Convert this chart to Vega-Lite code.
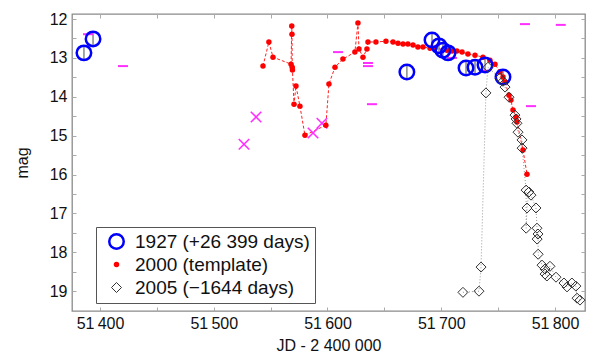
{
  "$schema": "https://vega.github.io/schema/vega-lite/v6.json",
  "width": 513,
  "height": 297,
  "autosize": "none",
  "padding": {"left": 72, "top": 14, "right": 5, "bottom": 50},
  "background": "white",
  "config": {
    "font": "Liberation Sans",
    "view": {"stroke": "#8a8a8a", "strokeWidth": 1.3},
    "locale": {"number": {"decimal": ".", "thousands": "\u2009", "grouping": [3], "currency": ["", ""]}},
    "axis": {"domain": false, "grid": false, "tickColor": "#aaaaaa", "tickSize": -4, "labelFontSize": 16, "labelColor": "#111111", "titleFontSize": 16, "titleFontWeight": "normal", "titleColor": "#111111"},
    "legend": {"orient": "none", "legendX": 24, "legendY": 213, "strokeColor": "#555555", "fillColor": "white", "padding": 5, "symbolOffset": 6, "labelFontSize": 19, "labelColor": "#111111", "labelOffset": 9, "rowPadding": 3, "clipHeight": 19, "labelLimit": 400}
  },
  "datasets": {
    "pts": [
      {"s": "2000 (template)", "jd": 51543.3, "mag": 13.21},
      {"s": "2000 (template)", "jd": 51548.5, "mag": 12.59},
      {"s": "2000 (template)", "jd": 51552.1, "mag": 12.98},
      {"s": "2000 (template)", "jd": 51568.0, "mag": 13.16},
      {"s": "2000 (template)", "jd": 51568.6, "mag": 12.18},
      {"s": "2000 (template)", "jd": 51568.8, "mag": 12.39},
      {"s": "2000 (template)", "jd": 51569.0, "mag": 13.24},
      {"s": "2000 (template)", "jd": 51569.2, "mag": 13.31},
      {"s": "2000 (template)", "jd": 51570.6, "mag": 14.19},
      {"s": "2000 (template)", "jd": 51572.3, "mag": 13.72},
      {"s": "2000 (template)", "jd": 51575.8, "mag": 14.24},
      {"s": "2000 (template)", "jd": 51580.2, "mag": 14.99},
      {"s": "2000 (template)", "jd": 51598.6, "mag": 14.73},
      {"s": "2000 (template)", "jd": 51601.3, "mag": 13.67},
      {"s": "2000 (template)", "jd": 51606.6, "mag": 13.24},
      {"s": "2000 (template)", "jd": 51613.6, "mag": 13.03},
      {"s": "2000 (template)", "jd": 51624.1, "mag": 12.85},
      {"s": "2000 (template)", "jd": 51626.8, "mag": 12.10},
      {"s": "2000 (template)", "jd": 51627.7, "mag": 12.77},
      {"s": "2000 (template)", "jd": 51631.2, "mag": 12.98},
      {"s": "2000 (template)", "jd": 51634.7, "mag": 12.77},
      {"s": "2000 (template)", "jd": 51635.6, "mag": 12.59},
      {"s": "2000 (template)", "jd": 51642.6, "mag": 12.59},
      {"s": "2000 (template)", "jd": 51651.4, "mag": 12.57},
      {"s": "2000 (template)", "jd": 51657.6, "mag": 12.59},
      {"s": "2000 (template)", "jd": 51662.0, "mag": 12.62},
      {"s": "2000 (template)", "jd": 51666.4, "mag": 12.64},
      {"s": "2000 (template)", "jd": 51670.7, "mag": 12.64},
      {"s": "2000 (template)", "jd": 51675.2, "mag": 12.67},
      {"s": "2000 (template)", "jd": 51679.5, "mag": 12.72},
      {"s": "2000 (template)", "jd": 51684.0, "mag": 12.72},
      {"s": "2000 (template)", "jd": 51690.2, "mag": 12.75},
      {"s": "2000 (template)", "jd": 51694.5, "mag": 12.75},
      {"s": "2000 (template)", "jd": 51705.0, "mag": 12.80},
      {"s": "2000 (template)", "jd": 51709.5, "mag": 12.82},
      {"s": "2000 (template)", "jd": 51713.8, "mag": 12.82},
      {"s": "2000 (template)", "jd": 51718.3, "mag": 12.85},
      {"s": "2000 (template)", "jd": 51723.5, "mag": 12.90},
      {"s": "2000 (template)", "jd": 51729.7, "mag": 12.93},
      {"s": "2000 (template)", "jd": 51736.7, "mag": 12.98},
      {"s": "2000 (template)", "jd": 51742.8, "mag": 13.06},
      {"s": "2000 (template)", "jd": 51747.3, "mag": 13.16},
      {"s": "2000 (template)", "jd": 51751.6, "mag": 13.36},
      {"s": "2000 (template)", "jd": 51754.3, "mag": 13.49},
      {"s": "2000 (template)", "jd": 51756.1, "mag": 13.62},
      {"s": "2000 (template)", "jd": 51759.6, "mag": 13.96},
      {"s": "2000 (template)", "jd": 51761.3, "mag": 14.08},
      {"s": "2000 (template)", "jd": 51763.1, "mag": 14.34},
      {"s": "2000 (template)", "jd": 51765.8, "mag": 14.52},
      {"s": "2000 (template)", "jd": 51766.6, "mag": 14.65},
      {"s": "2000 (template)", "jd": 51771.9, "mag": 15.37},
      {"s": "2000 (template)", "jd": 51775.4, "mag": 15.99},
      {"s": "1927 (+26 399 days)", "jd": 51385.9, "mag": 12.87, "lo": 12.69, "hi": 13.05},
      {"s": "1927 (+26 399 days)", "jd": 51393.9, "mag": 12.51, "lo": 12.33, "hi": 12.69},
      {"s": "1927 (+26 399 days)", "jd": 51669.8, "mag": 13.36, "lo": 13.17, "hi": 13.55},
      {"s": "1927 (+26 399 days)", "jd": 51691.9, "mag": 12.54, "lo": 12.36, "hi": 12.72},
      {"s": "1927 (+26 399 days)", "jd": 51698.0, "mag": 12.69, "lo": 12.51, "hi": 12.87},
      {"s": "1927 (+26 399 days)", "jd": 51701.5, "mag": 12.80, "lo": 12.62, "hi": 12.98},
      {"s": "1927 (+26 399 days)", "jd": 51706.0, "mag": 12.87, "lo": 12.69, "hi": 13.05},
      {"s": "1927 (+26 399 days)", "jd": 51721.8, "mag": 13.26, "lo": 13.08, "hi": 13.44},
      {"s": "1927 (+26 399 days)", "jd": 51729.7, "mag": 13.24, "lo": 13.06, "hi": 13.42},
      {"s": "1927 (+26 399 days)", "jd": 51738.5, "mag": 13.18, "lo": 13.00, "hi": 13.36},
      {"s": "1927 (+26 399 days)", "jd": 51754.3, "mag": 13.49, "lo": 13.31, "hi": 13.67},
      {"s": "2005 (\u22121644 days)", "jd": 51719.1, "mag": 19.03},
      {"s": "2005 (\u22121644 days)", "jd": 51733.2, "mag": 19.00},
      {"s": "2005 (\u22121644 days)", "jd": 51735.0, "mag": 18.38},
      {"s": "2005 (\u22121644 days)", "jd": 51739.3, "mag": 13.90},
      {"s": "2005 (\u22121644 days)", "jd": 51741.1, "mag": 13.24},
      {"s": "2005 (\u22121644 days)", "jd": 51751.6, "mag": 13.52},
      {"s": "2005 (\u22121644 days)", "jd": 51754.3, "mag": 13.60},
      {"s": "2005 (\u22121644 days)", "jd": 51756.1, "mag": 13.75},
      {"s": "2005 (\u22121644 days)", "jd": 51759.6, "mag": 14.01},
      {"s": "2005 (\u22121644 days)", "jd": 51764.8, "mag": 14.47},
      {"s": "2005 (\u22121644 days)", "jd": 51765.8, "mag": 14.57},
      {"s": "2005 (\u22121644 days)", "jd": 51766.6, "mag": 14.68},
      {"s": "2005 (\u22121644 days)", "jd": 51767.5, "mag": 14.91},
      {"s": "2005 (\u22121644 days)", "jd": 51771.0, "mag": 15.11},
      {"s": "2005 (\u22121644 days)", "jd": 51771.1, "mag": 15.32},
      {"s": "2005 (\u22121644 days)", "jd": 51774.6, "mag": 16.40},
      {"s": "2005 (\u22121644 days)", "jd": 51774.7, "mag": 17.38},
      {"s": "2005 (\u22121644 days)", "jd": 51775.4, "mag": 16.86},
      {"s": "2005 (\u22121644 days)", "jd": 51777.1, "mag": 16.45},
      {"s": "2005 (\u22121644 days)", "jd": 51778.9, "mag": 16.53},
      {"s": "2005 (\u22121644 days)", "jd": 51783.3, "mag": 16.86},
      {"s": "2005 (\u22121644 days)", "jd": 51784.2, "mag": 17.38},
      {"s": "2005 (\u22121644 days)", "jd": 51784.3, "mag": 17.66},
      {"s": "2005 (\u22121644 days)", "jd": 51785.1, "mag": 17.53},
      {"s": "2005 (\u22121644 days)", "jd": 51785.2, "mag": 18.05},
      {"s": "2005 (\u22121644 days)", "jd": 51788.6, "mag": 18.33},
      {"s": "2005 (\u22121644 days)", "jd": 51791.2, "mag": 18.43},
      {"s": "2005 (\u22121644 days)", "jd": 51791.3, "mag": 18.56},
      {"s": "2005 (\u22121644 days)", "jd": 51792.9, "mag": 18.61},
      {"s": "2005 (\u22121644 days)", "jd": 51795.6, "mag": 18.36},
      {"s": "2005 (\u22121644 days)", "jd": 51800.9, "mag": 18.64},
      {"s": "2005 (\u22121644 days)", "jd": 51807.9, "mag": 18.79},
      {"s": "2005 (\u22121644 days)", "jd": 51810.6, "mag": 18.89},
      {"s": "2005 (\u22121644 days)", "jd": 51814.9, "mag": 18.79},
      {"s": "2005 (\u22121644 days)", "jd": 51818.4, "mag": 18.87},
      {"s": "2005 (\u22121644 days)", "jd": 51819.4, "mag": 19.18},
      {"s": "2005 (\u22121644 days)", "jd": 51822.0, "mag": 19.23}
    ],
    "crosses": [
      {"jd": 51526.6, "mag": 15.22},
      {"jd": 51537.2, "mag": 14.52},
      {"jd": 51587.3, "mag": 14.93},
      {"jd": 51595.1, "mag": 14.68}
    ],
    "limits": [
      {"jd": 51389.5, "mag": 12.39},
      {"jd": 51420.2, "mag": 13.21},
      {"jd": 51609.3, "mag": 12.85},
      {"jd": 51635.6, "mag": 13.13},
      {"jd": 51635.6, "mag": 13.21},
      {"jd": 51639.1, "mag": 14.19},
      {"jd": 51709.5, "mag": 13.00},
      {"jd": 51737.6, "mag": 13.33},
      {"jd": 51773.6, "mag": 12.13},
      {"jd": 51778.9, "mag": 14.24},
      {"jd": 51805.1, "mag": 12.15}
    ]
  },
  "encoding": {
    "x": {"field": "jd", "type": "quantitative", "title": "JD - 2 400 000",
      "scale": {"domain": [51375.4, 51826.4], "nice": false, "zero": false},
      "axis": {"values": [51400, 51450, 51500, 51550, 51600, 51650, 51700, 51750, 51800], "format": ",.0f", "labelExpr": "datum.value % 100 === 0 ? datum.label : ''", "labelPadding": 8, "titlePadding": 6}},
    "y": {"field": "mag", "type": "quantitative", "title": "mag",
      "scale": {"domain": [11.87, 19.51], "nice": false, "zero": false, "reverse": true},
      "axis": {"values": [12, 12.5, 13, 13.5, 14, 14.5, 15, 15.5, 16, 16.5, 17, 17.5, 18, 18.5, 19], "format": ".0f", "labelExpr": "datum.value % 1 === 0 ? datum.label : ''", "labelPadding": 9, "titlePadding": 19}}
  },
  "layer": [
    {
      "layer": [
        {
          "data": {"name": "pts"},
          "transform": [{"filter": "datum.s === '1927 (+26 399 days)'"}],
          "mark": {"type": "rule", "color": "#888888", "strokeWidth": 1.5},
          "encoding": {
            "y": {"field": "lo", "type": "quantitative", "title": "mag"},
            "y2": {"field": "hi"}
          }
        },
        {
          "data": {"name": "pts"},
          "transform": [{"filter": "datum.s === '2000 (template)'"}],
          "mark": {"type": "line", "color": "#ff2020", "strokeWidth": 1, "strokeDash": [3, 2]},
          "encoding": {}
        },
        {
          "data": {"name": "pts"},
          "transform": [{"filter": "datum.s === '2005 (\u22121644 days)'"}],
          "mark": {"type": "line", "color": "#999999", "strokeWidth": 1, "strokeDash": [1, 2]},
          "encoding": {}
        },
        {
          "data": {"name": "crosses"},
          "mark": {"type": "point", "shape": "M-1,-1L1,1M-1,1L1,-1", "size": 110, "stroke": "#ff30ff", "strokeWidth": 1.6, "fill": null, "opacity": 1},
          "encoding": {}
        },
        {
          "data": {"name": "limits"},
          "mark": {"type": "point", "shape": "M-1,0L1,0", "size": 100, "stroke": "#ff30ff", "strokeWidth": 2, "fill": null, "opacity": 1},
          "encoding": {}
        },
        {
          "data": {"name": "pts"},
          "mark": {"type": "point", "opacity": 1},
          "encoding": {
            "shape": {"field": "s", "type": "nominal", "title": null,
              "scale": {"domain": ["1927 (+26 399 days)", "2000 (template)", "2005 (\u22121644 days)"], "range": ["circle", "circle", "diamond"]}},
            "stroke": {"field": "s", "type": "nominal", "title": null,
              "scale": {"domain": ["1927 (+26 399 days)", "2000 (template)", "2005 (\u22121644 days)"], "range": ["#0000ff", "#ff0000", "#333333"]}},
            "fill": {"field": "s", "type": "nominal", "title": null,
              "scale": {"domain": ["1927 (+26 399 days)", "2000 (template)", "2005 (\u22121644 days)"], "range": ["transparent", "#ff0000", "transparent"]}},
            "size": {"field": "s", "type": "nominal", "title": null,
              "scale": {"type": "ordinal", "domain": ["1927 (+26 399 days)", "2000 (template)", "2005 (\u22121644 days)"], "range": [210, 30, 100]}},
            "strokeWidth": {"field": "s", "type": "nominal", "title": null,
              "scale": {"type": "ordinal", "domain": ["1927 (+26 399 days)", "2000 (template)", "2005 (\u22121644 days)"], "range": [2.5, 0, 1]}}
          }
        }
      ]
    },
    {
      "data": {"name": "crosses"},
      "mark": {"type": "point", "opacity": 0},
      "encoding": {
        "x": {"field": "jd", "type": "quantitative", "title": null,
          "scale": {"domain": [51375.4, 51826.4], "nice": false, "zero": false},
          "axis": {"orient": "top", "values": [51400, 51450, 51500, 51550, 51600, 51650, 51700, 51750, 51800], "labels": false, "title": null}},
        "y": {"field": "mag", "type": "quantitative", "title": null,
          "scale": {"domain": [11.87, 19.51], "nice": false, "zero": false, "reverse": true},
          "axis": {"orient": "right", "values": [12, 12.5, 13, 13.5, 14, 14.5, 15, 15.5, 16, 16.5, 17, 17.5, 18, 18.5, 19], "labels": false, "title": null}}
      }
    }
  ],
  "resolve": {"axis": {"x": "independent", "y": "independent"}}
}
